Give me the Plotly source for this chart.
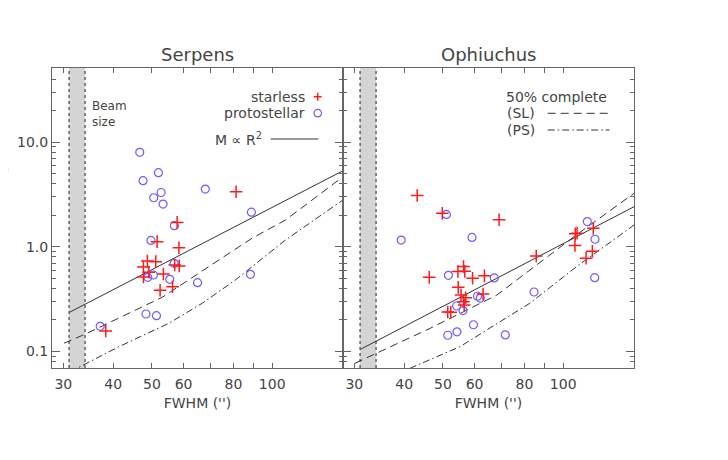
import plotly.graph_objects as go

# Serpens cores (FWHM in arcsec, mass in Msun)
serp_sl_fwhm = [81.2, 57.8, 51.5, 58.4, 48.7, 51.1, 47.6, 49.1, 57.0, 58.5, 47.6, 53.4, 52.4, 56.3, 38.3]
serp_sl_mass = [3.36, 1.71, 1.12, 0.98, 0.732, 0.721, 0.641, 0.572, 0.670, 0.656, 0.515, 0.550, 0.384, 0.416, 0.157]
serp_ps_fwhm = [46.6, 51.9, 47.5, 52.7, 50.5, 53.3, 68.0, 88.7, 56.9, 49.7, 56.8, 48.8, 50.4, 55.4, 65.0,
                88.2, 48.3, 51.3, 37.1]
serp_ps_mass = [7.99, 5.10, 4.28, 3.30, 2.94, 2.56, 3.56, 2.14, 1.59, 1.15, 0.696, 0.511, 0.538, 0.489, 0.454,
                0.546, 0.228, 0.220, 0.174]

# Ophiuchus cores
oph_sl_fwhm = [43.1, 49.8, 69.1, 107.2, 108.3, 107.0, 118.9, 118.3, 114.1, 85.6, 46.2, 54.5, 56.3, 56.7, 59.3,
               63.5, 54.6, 55.5, 57.0, 63.0, 56.3, 56.5, 51.4, 52.3]
oph_sl_mass = [3.09, 2.09, 1.81, 1.33, 1.35, 1.03, 1.50, 0.906, 0.778, 0.817, 0.511, 0.581, 0.649, 0.583, 0.500,
               0.528, 0.410, 0.346, 0.326, 0.354, 0.299, 0.278, 0.238, 0.237]
oph_ps_fwhm = [51.0, 39.3, 59.1, 114.9, 120.1, 119.9, 51.6, 67.2, 61.0, 62.0, 84.5, 54.1, 56.1, 59.6, 54.2,
               51.4, 71.6]
oph_ps_mass = [2.04, 1.16, 1.23, 1.74, 1.18, 0.507, 0.534, 0.504, 0.337, 0.324, 0.370, 0.272, 0.246, 0.180,
               0.154, 0.143, 0.144]

# reference curves: M ~ R^2 and 50% completeness (starless / protostellar)
serp_r2_fwhm = [31.1, 150.4]
serp_r2_mass = [0.237, 5.33]
serp_sl50_fwhm = [30.1, 34.1, 53.0, 89.1, 107.9, 150.4]
serp_sl50_mass = [0.120, 0.147, 0.329, 1.21, 1.80, 4.67]
serp_ps50_fwhm = [31.2, 41.3, 55.1, 66.8, 80.9, 107.9, 150.4]
serp_ps50_mass = [0.064, 0.111, 0.186, 0.289, 0.482, 1.16, 2.80]

oph_r2_fwhm = [31.1, 150.4]
oph_r2_mass = [0.105, 2.415]
oph_sl50_fwhm = [30.1, 46.5, 56.3, 68.2, 76.5, 107.9, 150.4]
oph_sl50_mass = [0.0772, 0.167, 0.240, 0.346, 0.482, 1.30, 3.24]
oph_ps50_fwhm = [41.3, 55.1, 82.5, 107.9, 150.4]
oph_ps50_mass = [0.069, 0.111, 0.289, 0.645, 1.615]

beam = [31.0, 34.0]

x_tickvals = [30, 40, 50, 60, 80, 100]
x_ticktext = ["30", "40", "50", "60", "80", "100"]
x_minor = [70, 90]
y_tickvals = [0.1, 1, 10]
y_ticktext = ["0.1", "1.0", "10.0"]
y_minor = [0.07, 0.08, 0.09, 0.2, 0.3, 0.4, 0.5, 0.6, 0.7, 0.8, 0.9,
           2, 3, 4, 5, 6, 7, 8, 9, 20, 30, 40, 50]

# page has an 8px body margin, so the figure is 8px smaller than the window
OFF = 8
W, H = 720, 452
FONT = "DejaVu Sans"
TXT = "#444444"
AX = "#666666"
RED = "#ff1a1a"
BLUE = "#6a5cff"
LINE = "#333333"
DASH = "8px,5px"
DASHDOT = "7px,3px,1.5px,3px"


def px(x):
    return (x - OFF) / W


def py(y):
    return 1 - (y - OFF) / H


fig = go.Figure()

panels = [
    ("x", "y", serp_sl_fwhm, serp_sl_mass, serp_ps_fwhm, serp_ps_mass,
     serp_r2_fwhm, serp_r2_mass, serp_sl50_fwhm, serp_sl50_mass, serp_ps50_fwhm, serp_ps50_mass),
    ("x2", "y2", oph_sl_fwhm, oph_sl_mass, oph_ps_fwhm, oph_ps_mass,
     oph_r2_fwhm, oph_r2_mass, oph_sl50_fwhm, oph_sl50_mass, oph_ps50_fwhm, oph_ps50_mass),
]

for xa, ya, slx, sly, psx, psy, r2x, r2y, s5x, s5y, p5x, p5y in panels:
    fig.add_trace(go.Scatter(x=r2x, y=r2y, xaxis=xa, yaxis=ya, mode="lines",
                             line=dict(color=LINE, width=1)))
    fig.add_trace(go.Scatter(x=s5x, y=s5y, xaxis=xa, yaxis=ya, mode="lines",
                             line=dict(color=LINE, width=1, dash=DASH)))
    fig.add_trace(go.Scatter(x=p5x, y=p5y, xaxis=xa, yaxis=ya, mode="lines",
                             line=dict(color=LINE, width=1, dash=DASHDOT)))
    fig.add_trace(go.Scatter(x=psx, y=psy, xaxis=xa, yaxis=ya, mode="markers",
                             marker=dict(symbol="circle-open", size=8, color=BLUE,
                                         line=dict(width=1.2, color=BLUE))))
    fig.add_trace(go.Scatter(x=slx, y=sly, xaxis=xa, yaxis=ya, mode="markers",
                             marker=dict(symbol="cross-thin", size=9,
                                         line=dict(width=1.5, color=RED))))
    # beam size band
    fig.add_shape(type="rect", xref=xa, yref=ya + " domain", x0=beam[0], x1=beam[1], y0=0, y1=1,
                  fillcolor="#d4d4d4", line=dict(width=0), layer="below")
    for b in beam:
        fig.add_shape(type="line", xref=xa, yref=ya + " domain", x0=b, x1=b, y0=0, y1=1,
                      line=dict(color="#222222", width=1, dash="dot"))

xaxis_common = dict(
    type="log", range=[1.4487, 2.1772], tickmode="array", tickvals=x_tickvals, ticktext=x_ticktext,
    ticks="inside", ticklen=5, tickcolor=AX,
    minor=dict(tickmode="array", tickvals=x_minor, ticks="inside", ticklen=5, tickcolor=AX),
    showline=True, linecolor=AX, linewidth=1, mirror="ticks", ticklabelstandoff=3,
    showgrid=False, zeroline=False, tickfont=dict(family=FONT, size=14, color=TXT),
    title=dict(text="FWHM ('')", font=dict(family=FONT, size=14, color=TXT), standoff=7),
)
yaxis_common = dict(
    type="log", range=[-1.1576, 1.7077], domain=[py(368), py(68)], tickmode="array",
    tickvals=y_tickvals, ticktext=y_ticktext, ticks="inside", ticklen=8, tickcolor=AX,
    minor=dict(tickmode="array", tickvals=y_minor, ticks="inside", ticklen=4, tickcolor=AX),
    showline=True, linecolor=AX, linewidth=1, mirror="ticks", showgrid=False, zeroline=False,
    tickfont=dict(family=FONT, size=14, color=TXT),
)

fig.update_layout(
    width=W, height=H, margin=dict(l=0, r=0, t=0, b=0),
    paper_bgcolor="white", plot_bgcolor="white", showlegend=False,
    xaxis=dict(xaxis_common, domain=[px(52), px(343)], anchor="y"),
    xaxis2=dict(xaxis_common, domain=[px(343), px(634)], anchor="y2"),
    yaxis=dict(yaxis_common, anchor="x"),
    yaxis2=dict(yaxis_common, anchor="x2", showticklabels=False),
)

ann_font = dict(family=FONT, size=14, color=TXT)
annotations = [
    dict(text="Serpens", x=px(197.5), y=py(54), font=dict(family=FONT, size=18, color=TXT)),
    dict(text="Ophiuchus", x=px(488.5), y=py(54), font=dict(family=FONT, size=18, color=TXT)),
    dict(text="Beam<br>size", x=px(90), y=py(113.5), xanchor="left", align="left",
         font=dict(family=FONT, size=12, color=TXT)),
    dict(text="starless", x=px(307), y=py(96.7), xanchor="right", font=ann_font),
    dict(text="protostellar", x=px(307), y=py(113), xanchor="right", font=ann_font),
    dict(text="M ∝ R<sup>2</sup>", x=px(264), y=py(139), xanchor="right", font=ann_font),
    dict(text="50% complete", x=px(609), y=py(96.7), xanchor="right", font=ann_font),
    dict(text="(SL)", x=px(537), y=py(113.3), xanchor="right", font=ann_font),
    dict(text="(PS)", x=px(537), y=py(130), xanchor="right", font=ann_font),
    dict(text="Mass (M<sub>☉</sub>)", x=px(12), y=py(200), xanchor="right", textangle=-90,
         font=dict(family=FONT, size=16, color=TXT)),
]
for a in annotations:
    a.setdefault("xanchor", "center")
    fig.add_annotation(xref="paper", yref="paper", yanchor="middle", showarrow=False, **a)

# legend glyphs drawn in paper coordinates
fig.add_shape(type="line", xref="paper", yref="paper", x0=px(313.7), x1=px(321.7), y0=py(96.7), y1=py(96.7),
              line=dict(color=RED, width=1.5))
fig.add_shape(type="line", xref="paper", yref="paper", x0=px(317.7), x1=px(317.7), y0=py(92.7), y1=py(100.7),
              line=dict(color=RED, width=1.5))
fig.add_shape(type="circle", xref="paper", yref="paper", x0=px(314), x1=px(321.5), y0=py(116.8), y1=py(109.3),
              line=dict(color=BLUE, width=1.2))
fig.add_shape(type="line", xref="paper", yref="paper", x0=px(270.7), x1=px(318.5), y0=py(139), y1=py(139),
              line=dict(color=LINE, width=1))
fig.add_shape(type="line", xref="paper", yref="paper", x0=px(547.7), x1=px(609.5), y0=py(113.3), y1=py(113.3),
              line=dict(color=LINE, width=1, dash=DASH))
fig.add_shape(type="line", xref="paper", yref="paper", x0=px(547.7), x1=px(609.5), y0=py(130), y1=py(130),
              line=dict(color=LINE, width=1, dash=DASHDOT))

fig.write_html("out.html")
